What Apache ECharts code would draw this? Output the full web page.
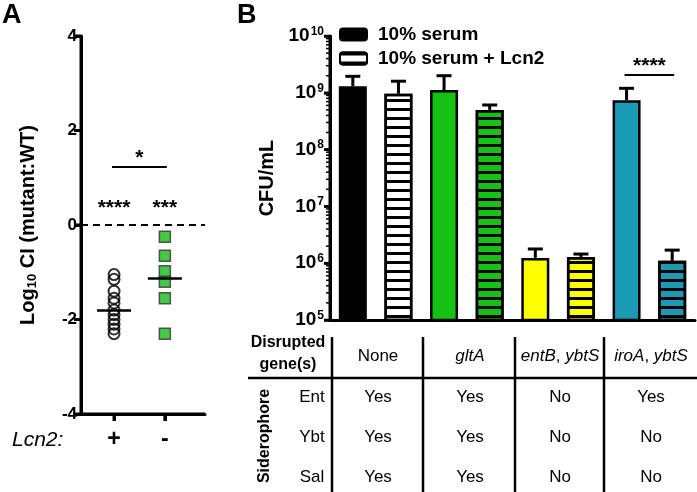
<!DOCTYPE html>
<html>
<head>
<meta charset="utf-8">
<script src="https://cdn.jsdelivr.net/npm/echarts@6/dist/echarts.min.js"></script>
<style>
  html, body { margin: 0; padding: 0; background: #fff; }
  #main { width: 697px; height: 492px; }
</style>
</head>
<body>
<div id="main"></div>
<script>
    // panel A: competitive index, log10
    var aCats = ['+', '-'];
    var lcnPlus = [-1.05, -1.15, -1.4, -1.55, -1.65, -1.8, -1.9, -2.0, -2.1, -2.2, -2.3];
    var lcnMinus = [-0.25, -0.65, -0.98, -1.2, -1.55, -2.3];
    var aMedians = [-1.81, -1.13];
    var aTicks = [-4, -2, 0, 2, 4];

    // panel B: CFU/mL
    var groups = ['None', 'gltA', 'entB, ybtS', 'iroA, ybtS'];
    var serumMean = [1.3e9, 1.12e9, 1.24e6, 7.4e8];
    var serumUpper = [1.95e9, 2.0e9, 1.78e6, 1.2e9];
    var lcnMean = [9.6e8, 5.0e8, 1.29e6, 1.1e6];
    var lcnUpper = [1.6e9, 6.1e8, 1.45e6, 1.7e6];
    var serumColors = ['#000000', '#13c213', '#ffff00', '#1a9ab4'];
    var lcnColors = ['#ffffff', '#13c213', '#ffff00', '#1a9ab4'];
    var bTicks = [1e5, 1e6, 1e7, 1e8, 1e9, 1e10];

    // table under panel B
    var tableRows = ['Ent', 'Ybt', 'Sal'];
    var tableCells = [
        ['Yes', 'Yes', 'No', 'Yes'],
        ['Yes', 'Yes', 'No', 'No'],
        ['Yes', 'Yes', 'No', 'No']
    ];
    var groupHeaders = ['None', '{i|gltA}', '{i|entB}, {i|ybtS}', '{i|iroA}, {i|ybtS}'];

    var FONT = 'Liberation Sans, Arial, sans-serif';
    var stripe = { symbol: 'rect', symbolSize: 1, dashArrayX: [1, 0], dashArrayY: [3, 6], rotation: 0, color: '#000' };

    // minor log ticks 2..9 x 10^n
    var minorTicks = [];
    for (var e = 5; e < 10; e++) {
        for (var m = 2; m <= 9; m++) minorTicks.push(m * Math.pow(10, e));
    }

    var slots = [];
    var serumData = [], lcnData = [], errData = [];
    groups.forEach(function(g, i){
        slots.push(g + ' a', g + ' b');
        serumData.push({ value: serumMean[i], itemStyle: { color: serumColors[i] } }, '-');
        lcnData.push('-', { value: lcnMean[i], itemStyle: { color: lcnColors[i], decal: stripe } });
        errData.push([i * 2, serumMean[i], serumUpper[i]], [i * 2 + 1, lcnMean[i], lcnUpper[i]]);
    });

    var medianData = aMedians.map(function(v, i){ return [i + 1, v]; });

    function errorBar(params, api) {
        var p0 = api.coord([api.value(0), api.value(1)]);
        var p1 = api.coord([api.value(0), api.value(2)]);
        var st = { stroke: '#000', lineWidth: 3 };
        return { type: 'group', children: [
            { type: 'line', shape: { x1: p0[0], y1: p0[1], x2: p1[0], y2: p1[1] }, style: st },
            { type: 'line', shape: { x1: p1[0] - 7.5, y1: p1[1], x2: p1[0] + 7.5, y2: p1[1] }, style: st }
        ]};
    }

    function medianLine(params, api) {
        var p = api.coord([api.value(0), api.value(1)]);
        return { type: 'line', shape: { x1: p[0] - 17, y1: p[1], x2: p[0] + 17, y2: p[1] },
            style: { stroke: '#000', lineWidth: 2.5 } };
    }

    // significance brackets: [x1, x2, y, withLine]; texts kept apart
    var sigA = [[1, 2, 1.23, 1], [1, 1, 0.45, 0], [2, 2, 0.45, 0]];
    var sigAText = ['*', '****', '***'];
    var sigB = [[6, 7, 2.05e9, 1]];
    var sigBText = ['****'];
    function sigMaker(texts) {
        return function(params, api) {
            var p1 = api.coord([api.value(0), api.value(2)]);
            var p2 = api.coord([api.value(1), api.value(2)]);
            var withLine = api.value(3);
            var kids = [];
            if (withLine) {
                kids.push({ type: 'line', shape: { x1: p1[0] - 2, y1: p1[1], x2: p2[0] + 2, y2: p2[1] },
                    style: { stroke: '#000', lineWidth: 2 } });
            }
            kids.push({ type: 'text', x: (p1[0] + p2[0]) / 2, y: p1[1] + (withLine ? 2 : 4),
                style: { text: texts[params.dataIndex], fill: '#000', font: 'bold 21px ' + FONT, align: 'center',
                    verticalAlign: withLine ? 'bottom' : 'middle' } });
            return { type: 'group', children: kids };
        };
    }

    // axis frame for panel A (line + ticks), from the axis scales
    function frameA(params, api) {
        var cs = params.coordSys;
        var st = { stroke: '#000', lineWidth: 3 };
        var left = cs.x, bottom = cs.y + cs.height;
        var kids = [
            { type: 'line', shape: { x1: left, y1: cs.y, x2: left, y2: bottom + 1.5 }, style: st },
            { type: 'line', shape: { x1: left - 1.5, y1: bottom, x2: cs.x + cs.width, y2: bottom }, style: st }
        ];
        aTicks.forEach(function(t){
            var y = api.coord([1, t])[1];
            kids.push({ type: 'line', shape: { x1: left - 7, y1: y, x2: left, y2: y }, style: st });
        });
        aCats.forEach(function(c, i){
            var x = api.coord([i + 1, 0])[0];
            kids.push({ type: 'line', shape: { x1: x, y1: bottom, x2: x, y2: bottom + 7 }, style: st });
        });
        return { type: 'group', children: kids };
    }

    // axis frame for panel B (log y line, major and minor ticks)
    function frameB(params, api) {
        var cs = params.coordSys;
        var left = cs.x;
        var kids = [
            { type: 'line', shape: { x1: left, y1: cs.y, x2: left, y2: cs.y + cs.height }, style: { stroke: '#000', lineWidth: 3 } }
        ];
        bTicks.forEach(function(t){
            var y = api.coord([0, t])[1];
            kids.push({ type: 'line', shape: { x1: left - 6, y1: y, x2: left, y2: y }, style: { stroke: '#000', lineWidth: 2.5 } });
        });
        minorTicks.forEach(function(t){
            var y = api.coord([0, t])[1];
            kids.push({ type: 'line', shape: { x1: left - 4, y1: y, x2: left, y2: y }, style: { stroke: '#000', lineWidth: 1.5 } });
        });
        return { type: 'group', children: kids };
    }

    // table graphics
    var tbl = [];
    var colX = [378, 470, 560, 651];
    var rowY = [397, 437, 477];
    [332, 423, 515, 604].forEach(function(x){
        tbl.push({ type: 'line', shape: { x1: x, y1: 337, x2: x, y2: 492 }, style: { stroke: '#000', lineWidth: 2.5 } });
    });
    tbl.push({ type: 'line', shape: { x1: 248, y1: 378, x2: 697, y2: 378 }, style: { stroke: '#000', lineWidth: 2.5 } });
    tbl.push({ type: 'text', x: 288, y: 354, style: { text: 'Disrupted\ngene(s)', font: 'bold 16px ' + FONT, fill: '#000',
        align: 'center', verticalAlign: 'middle', lineHeight: 22 } });
    groupHeaders.forEach(function(h, i){
        tbl.push({ type: 'text', x: colX[i], y: 356, style: { text: h, font: '17px ' + FONT, fill: '#000',
            align: 'center', verticalAlign: 'middle', rich: { i: { fontStyle: 'italic', fontSize: 17, fontFamily: FONT } } } });
    });
    tableRows.forEach(function(r, j){
        tbl.push({ type: 'text', x: 312, y: rowY[j], style: { text: r, font: '17px ' + FONT, fill: '#000', align: 'center', verticalAlign: 'middle' } });
        tableCells[j].forEach(function(c, i){
            tbl.push({ type: 'text', x: colX[i], y: rowY[j], style: { text: c, font: '17px ' + FONT, fill: '#000', align: 'center', verticalAlign: 'middle' } });
        });
    });
    tbl.push({ type: 'text', x: 265, y: 436, rotation: Math.PI / 2, style: { text: 'Siderophore', font: 'bold 16px ' + FONT,
        fill: '#000', align: 'center', verticalAlign: 'middle' } });
    tbl.push({ type: 'text', x: 2, y: 2, style: { text: 'A', font: 'bold 27px ' + FONT, fill: '#000' } });
    tbl.push({ type: 'text', x: 237, y: 2, style: { text: 'B', font: 'bold 27px ' + FONT, fill: '#000' } });
    tbl.push({ type: 'text', x: 12, y: 440, style: { text: 'Lcn2:', font: 'italic 21px ' + FONT, fill: '#000', verticalAlign: 'middle' } });

    var myChart = echarts.init(document.getElementById('main'), null, { renderer: 'canvas' });
    var option = {
        animation: false,
        backgroundColor: '#fff',
        textStyle: { fontFamily: FONT },
        legend: {
            left: 334, top: 20, orient: 'vertical', itemWidth: 27, itemHeight: 12, itemGap: 5,
            data: ['10% serum', '10% serum + Lcn2'],
            textStyle: { fontFamily: FONT, fontWeight: 'bold', fontSize: 19, color: '#000', padding: [0, 0, 0, 6] }
        },
        grid: [
            { left: 81, top: 36, width: 124, height: 378 },
            { left: 330, top: 36, width: 365, height: 284 }
        ],
        xAxis: [
            {
                gridIndex: 0, type: 'value', min: 0.35, max: 2.79,
                axisLine: { show: true, onZero: false, lineStyle: { color: '#000', width: 3 } },
                axisTick: { show: true, length: 7, lineStyle: { width: 3, color: '#000' }, customValues: [1, 2] },
                axisLabel: { customValues: [1, 2], margin: 14, formatter: function(v){ return aCats[Math.round(v) - 1]; },
                    color: '#000', fontSize: 23, fontWeight: 'bold' },
                splitLine: { show: false }
            },
            {
                gridIndex: 1, type: 'category', data: slots,
                axisLine: { show: true, lineStyle: { color: '#000', width: 3 } },
                axisTick: { show: false }, axisLabel: { show: false }
            }
        ],
        yAxis: [
            {
                gridIndex: 0, type: 'value', min: -4, max: 4, interval: 2,
                name: 'Log{s|10} CI (mutant:WT)', nameLocation: 'middle', nameGap: 42, nameRotate: 90,
                nameTextStyle: { color: '#000', fontSize: 20, fontWeight: 'bold', fontFamily: FONT,
                    rich: { s: { fontSize: 13, fontWeight: 'bold', padding: [9, 0, 0, 0], fontFamily: FONT } } },
                axisLine: { show: true, lineStyle: { color: '#000', width: 3 } },
                axisTick: { show: true, length: 7, lineStyle: { width: 3, color: '#000' } },
                axisLabel: { margin: 4, color: '#000', fontWeight: 'bold', fontSize: 17 },
                splitLine: { show: false }
            },
            {
                gridIndex: 1, type: 'log', logBase: 10, min: 1e5, max: 1e10,
                name: 'CFU/mL', nameLocation: 'middle', nameGap: 48, nameRotate: 90,
                nameTextStyle: { color: '#000', fontSize: 20, fontWeight: 'bold', fontFamily: FONT },
                axisLine: { show: true, lineStyle: { color: '#000', width: 3 } },
                axisTick: { show: true, length: 6, lineStyle: { width: 2.5, color: '#000' } },
                axisLabel: {
                    margin: 6,
                    formatter: function(v){ return '{b|10}{s|' + Math.round(Math.log10(v)) + '}'; },
                    rich: {
                        b: { fontSize: 19, fontWeight: 'bold', color: '#000', fontFamily: FONT },
                        s: { fontSize: 12, fontWeight: 'bold', color: '#000', fontFamily: FONT, padding: [0, 0, 9, 1] }
                    }
                },
                splitLine: { show: false }
            }
        ],
        series: [
            {
                type: 'scatter', xAxisIndex: 0, yAxisIndex: 0, symbol: 'circle', symbolSize: 11,
                data: lcnPlus.map(function(v){ return [1, v]; }),
                itemStyle: { color: 'rgba(255,255,255,0)', borderColor: '#000', borderWidth: 2 },
                markLine: {
                    silent: true, symbol: 'none', label: { show: false },
                    lineStyle: { color: '#000', type: [7, 5], width: 2 },
                    data: [{ yAxis: 0 }]
                }
            },
            {
                type: 'scatter', xAxisIndex: 0, yAxisIndex: 0, symbol: 'rect', symbolSize: 11,
                data: lcnMinus.map(function(v){ return [2, v]; }),
                itemStyle: { color: '#16bb16', borderColor: '#333', borderWidth: 1.5 }
            },
            { type: 'custom', xAxisIndex: 0, yAxisIndex: 0, data: medianData, renderItem: medianLine, z: 5 },
            { type: 'custom', xAxisIndex: 0, yAxisIndex: 0, data: sigA, renderItem: sigMaker(sigAText), encode: { x: [0, 1], y: 2 } },
            { type: 'custom', xAxisIndex: 0, yAxisIndex: 0, data: [[1, 0]], renderItem: frameA, clip: false, silent: true, z: 4 },
            {
                name: '10% serum', type: 'bar', xAxisIndex: 1, yAxisIndex: 1, barWidth: 28, barGap: '-100%',
                itemStyle: { color: '#000', borderColor: '#000', borderWidth: 2.5 },
                data: serumData
            },
            {
                name: '10% serum + Lcn2', type: 'bar', xAxisIndex: 1, yAxisIndex: 1, barWidth: 28, barGap: '-100%',
                itemStyle: { color: '#fff', borderColor: '#000', borderWidth: 2.5, decal: stripe },
                data: lcnData
            },
            { type: 'custom', xAxisIndex: 1, yAxisIndex: 1, data: errData, renderItem: errorBar, encode: { x: 0, y: [1, 2] }, z: 1 },
            { type: 'custom', xAxisIndex: 1, yAxisIndex: 1, data: sigB, renderItem: sigMaker(sigBText), encode: { x: [0, 1], y: 2 } },
            { type: 'custom', xAxisIndex: 1, yAxisIndex: 1, data: [[0, 1e6]], renderItem: frameB, clip: false, silent: true, z: 4 }
        ],
        graphic: tbl
    };
    myChart.setOption(option);
</script>
</body>
</html>
